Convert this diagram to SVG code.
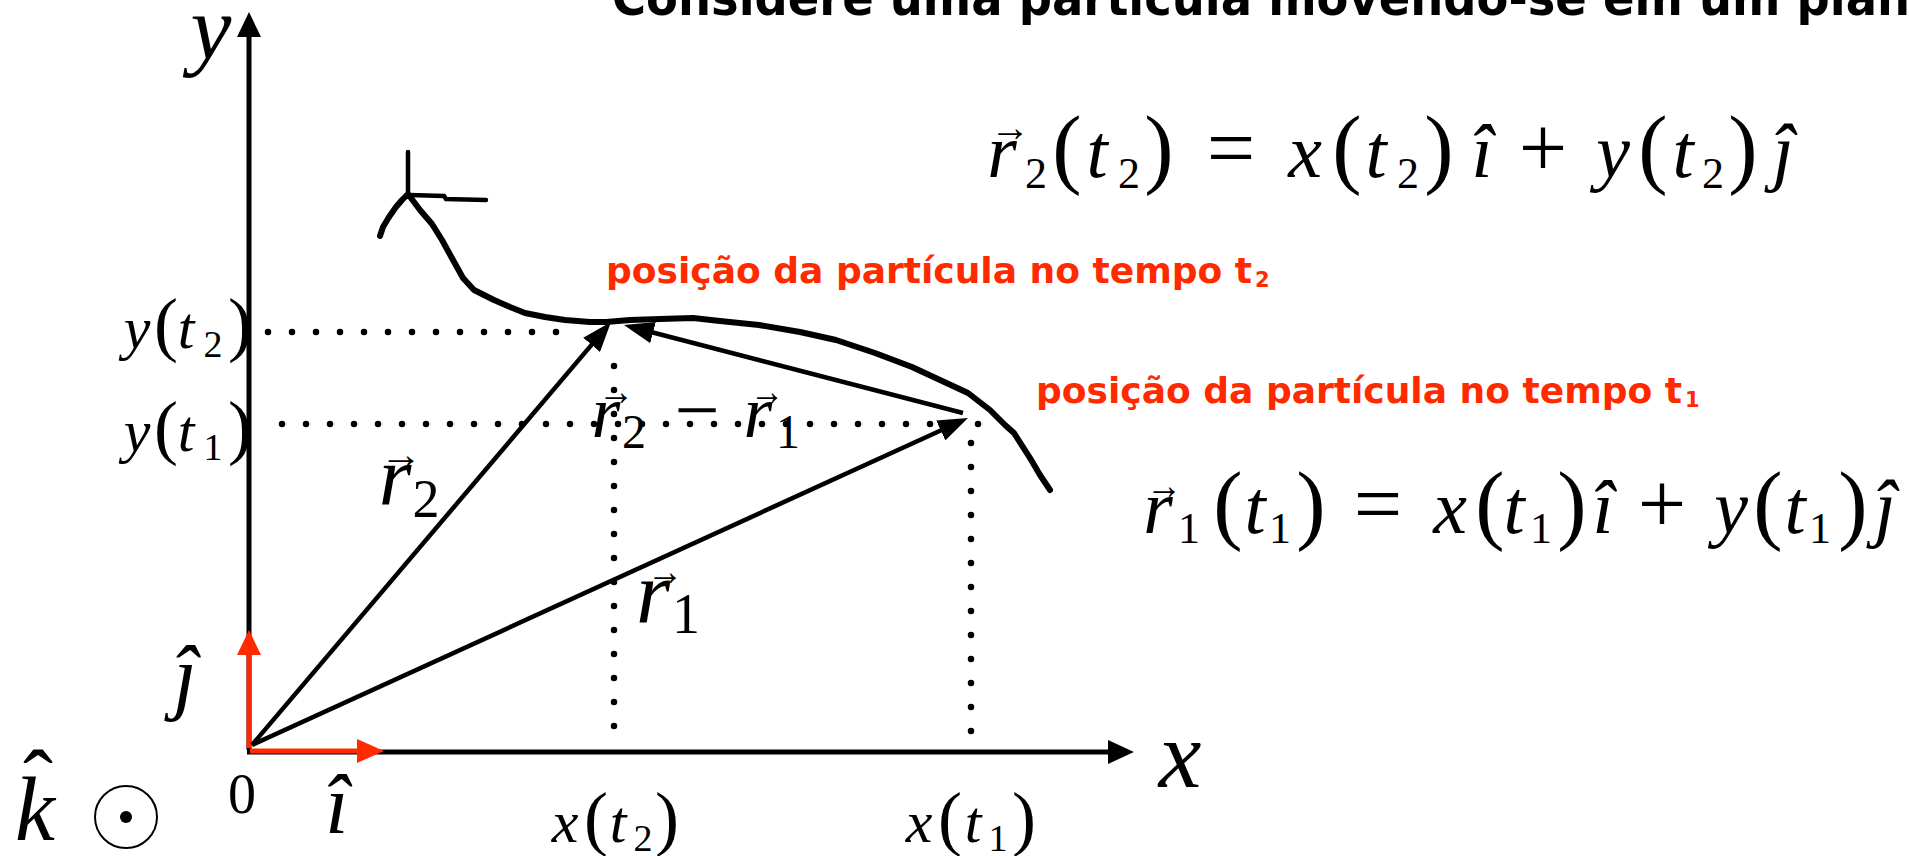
<svg xmlns="http://www.w3.org/2000/svg" width="1909" height="856" viewBox="0 0 1909 856">
<style>
.m{font-family:"Liberation Serif","DejaVu Serif",serif;fill:#000;text-anchor:middle}
.a{font-family:"Liberation Serif","DejaVu Serif",serif;fill:#000;font-size:40px}
.i{font-style:italic}
.red{font-family:"DejaVu Sans","Liberation Sans",sans-serif;font-weight:bold;fill:#ff2a00}
.ttl{font-family:"DejaVu Sans","Liberation Sans",sans-serif;font-weight:bold;fill:#000}
.dot{fill:none;stroke:#000;stroke-width:6.5;stroke-linecap:round;stroke-dasharray:0 24}
.vec{fill:none;stroke:#000;stroke-width:4.5}
.ax{fill:none;stroke:#000;stroke-width:5}
.rax{fill:none;stroke:#ff2a00;stroke-width:5}
</style>
<defs>
<marker id="ah" markerUnits="userSpaceOnUse" viewBox="0 0 30 22" markerWidth="30" markerHeight="22" refX="15" refY="11" orient="auto">
<path d="M0,0 L30,11 L0,22 z" fill="#000"/>
</marker>
</defs>
<rect width="1909" height="856" fill="#fff"/>

<g id="title">
<text class="ttl" x="612" y="15" font-size="50" textLength="1330" lengthAdjust="spacingAndGlyphs">Considere uma partícula movendo-se em um plano</text>
</g>

<g id="axes">
<line class="ax" x1="249" y1="750" x2="249" y2="34"/>
<polygon points="249,12 237,37 261,37" fill="#000"/>
<line class="ax" x1="247" y1="752" x2="1110" y2="752"/>
<polygon points="1134,752 1108,740 1108,764" fill="#000"/>
<text class="m i" x="211" y="59" font-size="92">y</text>
<text class="m i" x="1180" y="787" font-size="96">x</text>
<text class="m" x="242" y="813" font-size="56">0</text>
</g>

<g id="unit-vectors">
<line class="rax" x1="249" y1="748" x2="249" y2="652"/>
<polygon points="249,630 237,655 261,655" fill="#ff2a00"/>
<line class="rax" x1="250" y1="751" x2="360" y2="751"/>
<polygon points="384,751 357,739 357,763" fill="#ff2a00"/>
<text class="m i" x="185" y="704" font-size="84">ĵ</text>
<text class="m i" x="337" y="833" font-size="84">î</text>
<text class="m i" x="35" y="840" font-size="90">k</text>
<text class="m" x="38" y="813" font-size="90">ˆ</text>
<circle cx="126" cy="817" r="31" fill="none" stroke="#000" stroke-width="2"/>
<circle cx="126" cy="817" r="6" fill="#000"/>
</g>

<g id="trajectory">
<path d="M380,236 L383,227 L389,217 L396,207 L402,200 L408,194 L420,210 L432,224 L442,240 L453,260 L463,278 L474,290 L494,300 L510,307 L525,313 L545,317 L565,320 L590,322 L606,322 L630,320 L660,319 L693,318 L720,321 L759,325 L800,332 L836,340 L875,353 L912,367 L940,380 L968,393 L990,410 L1005,425 L1014,433 L1030,458 L1040,475 L1050,490" fill="none" stroke="#000" stroke-width="6" stroke-linejoin="round" stroke-linecap="round"/>
<line x1="408" y1="152" x2="408" y2="195" stroke="#000" stroke-width="4.5" stroke-linecap="round"/>
<polyline points="409,195 444,196 446,199 486,200" fill="none" stroke="#000" stroke-width="4.5" stroke-linecap="round"/>
</g>

<g id="guides">
<line class="dot" x1="268" y1="332" x2="557" y2="332"/>
<line class="dot" x1="282" y1="424" x2="980" y2="424"/>
<line class="dot" x1="614" y1="366" x2="614" y2="728"/>
<line class="dot" x1="971" y1="443" x2="971" y2="733"/>
</g>

<g id="connectors">
<line class="vec" x1="252" y1="745" x2="601.3" y2="333.4" marker-end="url(#ah)"/>
<line class="vec" x1="252" y1="745" x2="954.4" y2="424.2" marker-end="url(#ah)"/>
<line class="vec" x1="963" y1="413" x2="638.5" y2="328.8" marker-end="url(#ah)"/>
</g>

<g id="axis-labels">
<text class="m"><tspan class="i" x="137" y="348" font-size="60">y</tspan><tspan x="166" y="348" font-size="72">(</tspan><tspan class="i" x="186" y="348" font-size="60">t</tspan><tspan x="213" y="357" font-size="38">2</tspan><tspan x="240" y="348" font-size="72">)</tspan></text>
<text class="m"><tspan class="i" x="137" y="451" font-size="60">y</tspan><tspan x="166" y="451" font-size="72">(</tspan><tspan class="i" x="186" y="451" font-size="60">t</tspan><tspan x="213" y="460" font-size="38">1</tspan><tspan x="240" y="451" font-size="72">)</tspan></text>
<text class="m"><tspan class="i" x="565" y="842" font-size="60">x</tspan><tspan x="596" y="842" font-size="72">(</tspan><tspan class="i" x="618" y="842" font-size="60">t</tspan><tspan x="643" y="851" font-size="38">2</tspan><tspan x="667" y="842" font-size="72">)</tspan></text>
<text class="m"><tspan class="i" x="919" y="842" font-size="60">x</tspan><tspan x="950" y="842" font-size="72">(</tspan><tspan class="i" x="973" y="842" font-size="60">t</tspan><tspan x="998" y="851" font-size="38">1</tspan><tspan x="1024" y="842" font-size="72">)</tspan></text>
</g>

<g id="vector-labels">
<text class="m"><tspan class="i" x="395" y="505" font-size="84">r</tspan><tspan x="426" y="517" font-size="54">2</tspan></text>
<text class="a" x="380" y="468" textLength="42" lengthAdjust="spacingAndGlyphs">→</text>
<text class="m"><tspan class="i" x="653" y="622" font-size="88">r</tspan><tspan x="686" y="633" font-size="56">1</tspan></text>
<text class="a" x="647" y="585" textLength="36" lengthAdjust="spacingAndGlyphs">→</text>
<text class="m"><tspan class="i" x="606" y="437" font-size="74">r</tspan><tspan x="634" y="448" font-size="48">2</tspan><tspan x="697" y="437" font-size="80">−</tspan><tspan class="i" x="758" y="437" font-size="74">r</tspan><tspan x="788" y="448" font-size="48">1</tspan></text>
<text class="a" x="598" y="405" textLength="36" lengthAdjust="spacingAndGlyphs">→</text>
<text class="a" x="750" y="405" textLength="34" lengthAdjust="spacingAndGlyphs">→</text>
</g>

<g id="position-labels">
<text class="red" x="606" y="283" font-size="36" textLength="646" lengthAdjust="spacingAndGlyphs">posição da partícula no tempo t</text>
<text class="red" x="1255" y="287" font-size="21">2</text>
<text class="red" x="1036" y="403" font-size="36" textLength="646" lengthAdjust="spacingAndGlyphs">posição da partícula no tempo t</text>
<text class="red" x="1685" y="407" font-size="21">1</text>
</g>

<g id="equation-r2">
<text class="m"><tspan class="i" x="1002" y="177" font-size="76">r</tspan><tspan x="1036" y="188" font-size="44">2</tspan><tspan x="1067" y="177" font-size="88">(</tspan><tspan class="i" x="1097" y="177" font-size="76">t</tspan><tspan x="1129" y="188" font-size="44">2</tspan><tspan x="1159" y="177" font-size="88">)</tspan><tspan x="1231" y="177" font-size="86">=</tspan><tspan class="i" x="1305" y="177" font-size="76">x</tspan><tspan x="1347" y="177" font-size="88">(</tspan><tspan class="i" x="1376" y="177" font-size="76">t</tspan><tspan x="1408" y="188" font-size="44">2</tspan><tspan x="1439" y="177" font-size="88">)</tspan><tspan class="i" x="1482" y="177" font-size="76">î</tspan><tspan x="1543" y="177" font-size="86">+</tspan><tspan class="i" x="1613" y="177" font-size="76">y</tspan><tspan x="1653" y="177" font-size="88">(</tspan><tspan class="i" x="1683" y="177" font-size="76">t</tspan><tspan x="1713" y="188" font-size="44">2</tspan><tspan x="1743" y="177" font-size="88">)</tspan><tspan class="i" x="1783" y="177" font-size="76">ĵ</tspan></text>
<text class="a" x="990" y="141" textLength="40" lengthAdjust="spacingAndGlyphs">→</text>
</g>

<g id="equation-r1">
<text class="m"><tspan class="i" x="1158" y="533" font-size="76">r</tspan><tspan x="1189" y="543" font-size="44">1</tspan><tspan x="1228" y="533" font-size="88">(</tspan><tspan class="i" x="1255" y="533" font-size="76">t</tspan><tspan x="1280" y="543" font-size="44">1</tspan><tspan x="1311" y="533" font-size="88">)</tspan><tspan x="1378" y="533" font-size="86">=</tspan><tspan class="i" x="1450" y="533" font-size="76">x</tspan><tspan x="1490" y="533" font-size="88">(</tspan><tspan class="i" x="1514" y="533" font-size="76">t</tspan><tspan x="1541" y="543" font-size="44">1</tspan><tspan x="1572" y="533" font-size="88">)</tspan><tspan class="i" x="1603" y="533" font-size="76">î</tspan><tspan x="1662" y="533" font-size="86">+</tspan><tspan class="i" x="1731" y="533" font-size="76">y</tspan><tspan x="1768" y="533" font-size="88">(</tspan><tspan class="i" x="1795" y="533" font-size="76">t</tspan><tspan x="1820" y="543" font-size="44">1</tspan><tspan x="1853" y="533" font-size="88">)</tspan><tspan class="i" x="1885" y="533" font-size="76">ĵ</tspan></text>
<text class="a" x="1146" y="499" textLength="36" lengthAdjust="spacingAndGlyphs">→</text>
</g>
</svg>
